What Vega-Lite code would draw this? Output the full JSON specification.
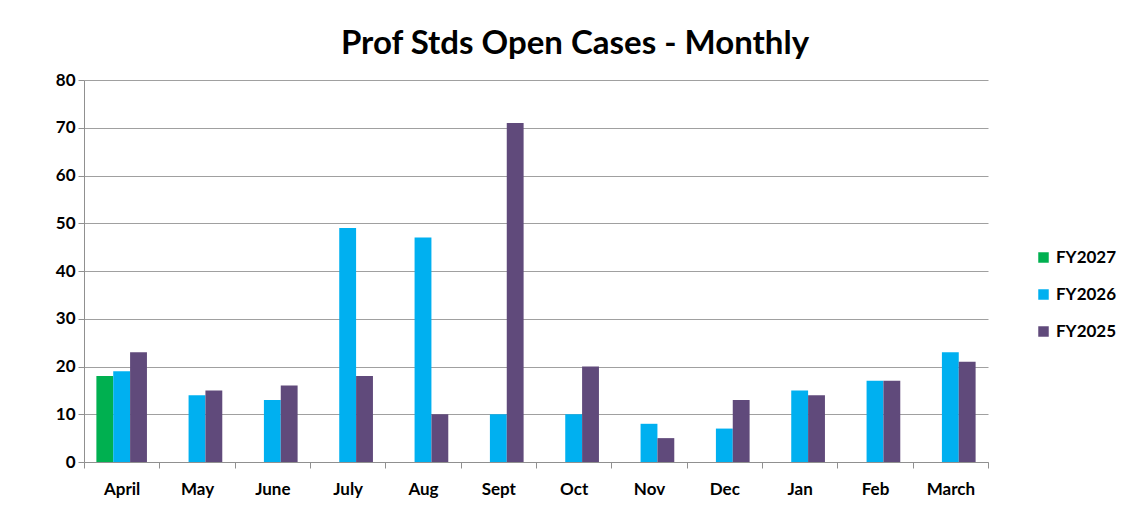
{
  "$schema": "https://vega.github.io/schema/vega-lite/v6.json",
  "width": 904,
  "height": 382,
  "autosize": {"type": "none"},
  "padding": {"left": 84, "top": 80, "right": 134, "bottom": 59},
  "background": "white",
  "title": {
    "text": "Prof Stds Open Cases - Monthly",
    "font": "Lato",
    "fontSize": 33,
    "fontWeight": "bold",
    "color": "#000000",
    "anchor": "middle",
    "baseline": "alphabetic",
    "offset": -16,
    "dx": 39
  },
  "data": {
    "values": [
      {"month": "April", "fy": "FY2027", "value": 18},
      {"month": "April", "fy": "FY2026", "value": 19},
      {"month": "April", "fy": "FY2025", "value": 23},
      {"month": "May", "fy": "FY2026", "value": 14},
      {"month": "May", "fy": "FY2025", "value": 15},
      {"month": "June", "fy": "FY2026", "value": 13},
      {"month": "June", "fy": "FY2025", "value": 16},
      {"month": "July", "fy": "FY2026", "value": 49},
      {"month": "July", "fy": "FY2025", "value": 18},
      {"month": "Aug", "fy": "FY2026", "value": 47},
      {"month": "Aug", "fy": "FY2025", "value": 10},
      {"month": "Sept", "fy": "FY2026", "value": 10},
      {"month": "Sept", "fy": "FY2025", "value": 71},
      {"month": "Oct", "fy": "FY2026", "value": 10},
      {"month": "Oct", "fy": "FY2025", "value": 20},
      {"month": "Nov", "fy": "FY2026", "value": 8},
      {"month": "Nov", "fy": "FY2025", "value": 5},
      {"month": "Dec", "fy": "FY2026", "value": 7},
      {"month": "Dec", "fy": "FY2025", "value": 13},
      {"month": "Jan", "fy": "FY2026", "value": 15},
      {"month": "Jan", "fy": "FY2025", "value": 14},
      {"month": "Feb", "fy": "FY2026", "value": 17},
      {"month": "Feb", "fy": "FY2025", "value": 17},
      {"month": "March", "fy": "FY2026", "value": 23},
      {"month": "March", "fy": "FY2025", "value": 21}
    ]
  },
  "mark": {"type": "bar"},
  "encoding": {
    "x": {
      "field": "month",
      "type": "nominal",
      "sort": ["April", "May", "June", "July", "Aug", "Sept", "Oct", "Nov", "Dec", "Jan", "Feb", "March"],
      "scale": {"paddingInner": 0, "paddingOuter": 0},
      "axis": {
        "title": null,
        "labelAngle": 0,
        "tickBand": "extent",
        "tickSize": 6,
        "tickColor": "#909090",
        "domainColor": "#909090",
        "labelFont": "Lato",
        "labelFontSize": 17,
        "labelFontWeight": "bold",
        "labelColor": "#000000",
        "labelPadding": 13,
        "grid": false
      }
    },
    "xOffset": {
      "field": "fy",
      "type": "nominal",
      "sort": ["FY2027", "FY2026", "FY2025"],
      "scale": {"paddingInner": 0, "paddingOuter": 0.735, "domain": ["FY2027", "FY2026", "FY2025"]}
    },
    "y": {
      "field": "value",
      "type": "quantitative",
      "scale": {"domain": [0, 80], "nice": false},
      "axis": {
        "title": null,
        "values": [0, 10, 20, 30, 40, 50, 60, 70, 80],
        "grid": true,
        "gridColor": "#A0A0A0",
        "gridWidth": 1,
        "tickColor": "#909090",
        "domainColor": "#909090",
        "tickSize": 6,
        "labelFont": "Lato",
        "labelFontSize": 17,
        "labelFontWeight": "bold",
        "labelColor": "#000000",
        "labelPadding": 3
      }
    },
    "color": {
      "field": "fy",
      "type": "nominal",
      "scale": {"domain": ["FY2027", "FY2026", "FY2025"], "range": ["#00B050", "#00B0F0", "#604A7B"]},
      "legend": {
        "title": null,
        "orient": "none",
        "legendX": 951,
        "legendY": 169,
        "symbolType": "square",
        "symbolSize": 110,
        "symbolStrokeWidth": 0,
        "symbolOpacity": 1,
        "rowPadding": 19,
        "labelFont": "Lato",
        "labelFontSize": 17,
        "labelFontWeight": "bold",
        "labelColor": "#000000",
        "labelOffset": 4
      }
    }
  },
  "config": {"view": {"stroke": null}}
}
